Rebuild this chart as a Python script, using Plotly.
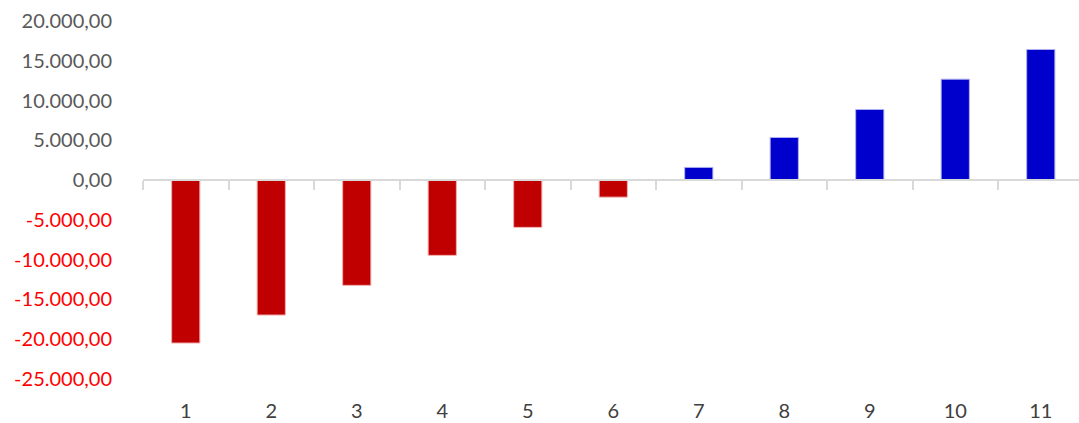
import plotly.graph_objects as go

categories = [1, 2, 3, 4, 5, 6, 7, 8, 9, 10, 11]
values = [-20480, -16960, -13230, -9460, -5940, -2140, 1600, 5360, 8880, 12690, 16420]
y_ticks = [20000, 15000, 10000, 5000, 0, -5000, -10000, -15000, -20000, -25000]

NEG_COLOR = "#C00000"
POS_COLOR = "#0000CC"

def fmt(v):
    s = f"{abs(v):,.2f}".replace(",", "X").replace(".", ",").replace("X", ".")
    return ("-" + s) if v < 0 else s

tick_text = [
    f'<span style="color:#FF0000">{fmt(v)}</span>' if v < 0 else fmt(v)
    for v in y_ticks
]

colors = [NEG_COLOR if v < 0 else POS_COLOR for v in values]
line_colors = ["#F0B0B0" if v < 0 else "#B0B0F0" for v in values]

fig = go.Figure()
fig.add_trace(go.Bar(
    x=categories, y=values,
    marker=dict(color=colors, line=dict(color=line_colors, width=1)),
    width=0.33,
    showlegend=False,
))

ymin, ymax = -25000, 20000
xr = [0.5, 11.447]

fig.update_layout(
    width=1079, height=423,
    margin=dict(l=143, r=0, t=21, b=44, autoexpand=False),
    paper_bgcolor="white", plot_bgcolor="white",
    font=dict(family="Lato", size=20, color="#595959"),
    xaxis=dict(
        range=xr, tickmode="array", tickvals=categories,
        ticktext=[str(c) for c in categories],
        showline=False, showgrid=False, zeroline=False,
        ticks="outside", ticklen=14, tickcolor="rgba(0,0,0,0)",
        tickfont=dict(color="#404040", size=20), automargin=False,
    ),
    xaxis2=dict(
        overlaying="x", anchor="free", side="bottom",
        position=(0 - ymin) / (ymax - ymin),
        range=xr, tickmode="array",
        tickvals=[c - 0.5 for c in categories],
        showticklabels=False, showgrid=False, zeroline=False,
        showline=True, linecolor="#D9D9D9", linewidth=2,
        ticks="outside", ticklen=9, tickwidth=2, tickcolor="#D9D9D9",
        automargin=False,
    ),
    yaxis=dict(
        range=[ymin, ymax], tickmode="array", tickvals=y_ticks,
        ticktext=tick_text, showgrid=False, zeroline=False, showline=False,
        ticks="outside", ticklen=26, tickcolor="rgba(0,0,0,0)",
        automargin=False,
    ),
)
# invisible helper trace so xaxis2 is drawn
fig.add_trace(go.Scatter(x=[], y=[], xaxis="x2", showlegend=False))

fig.write_html("out.html")
